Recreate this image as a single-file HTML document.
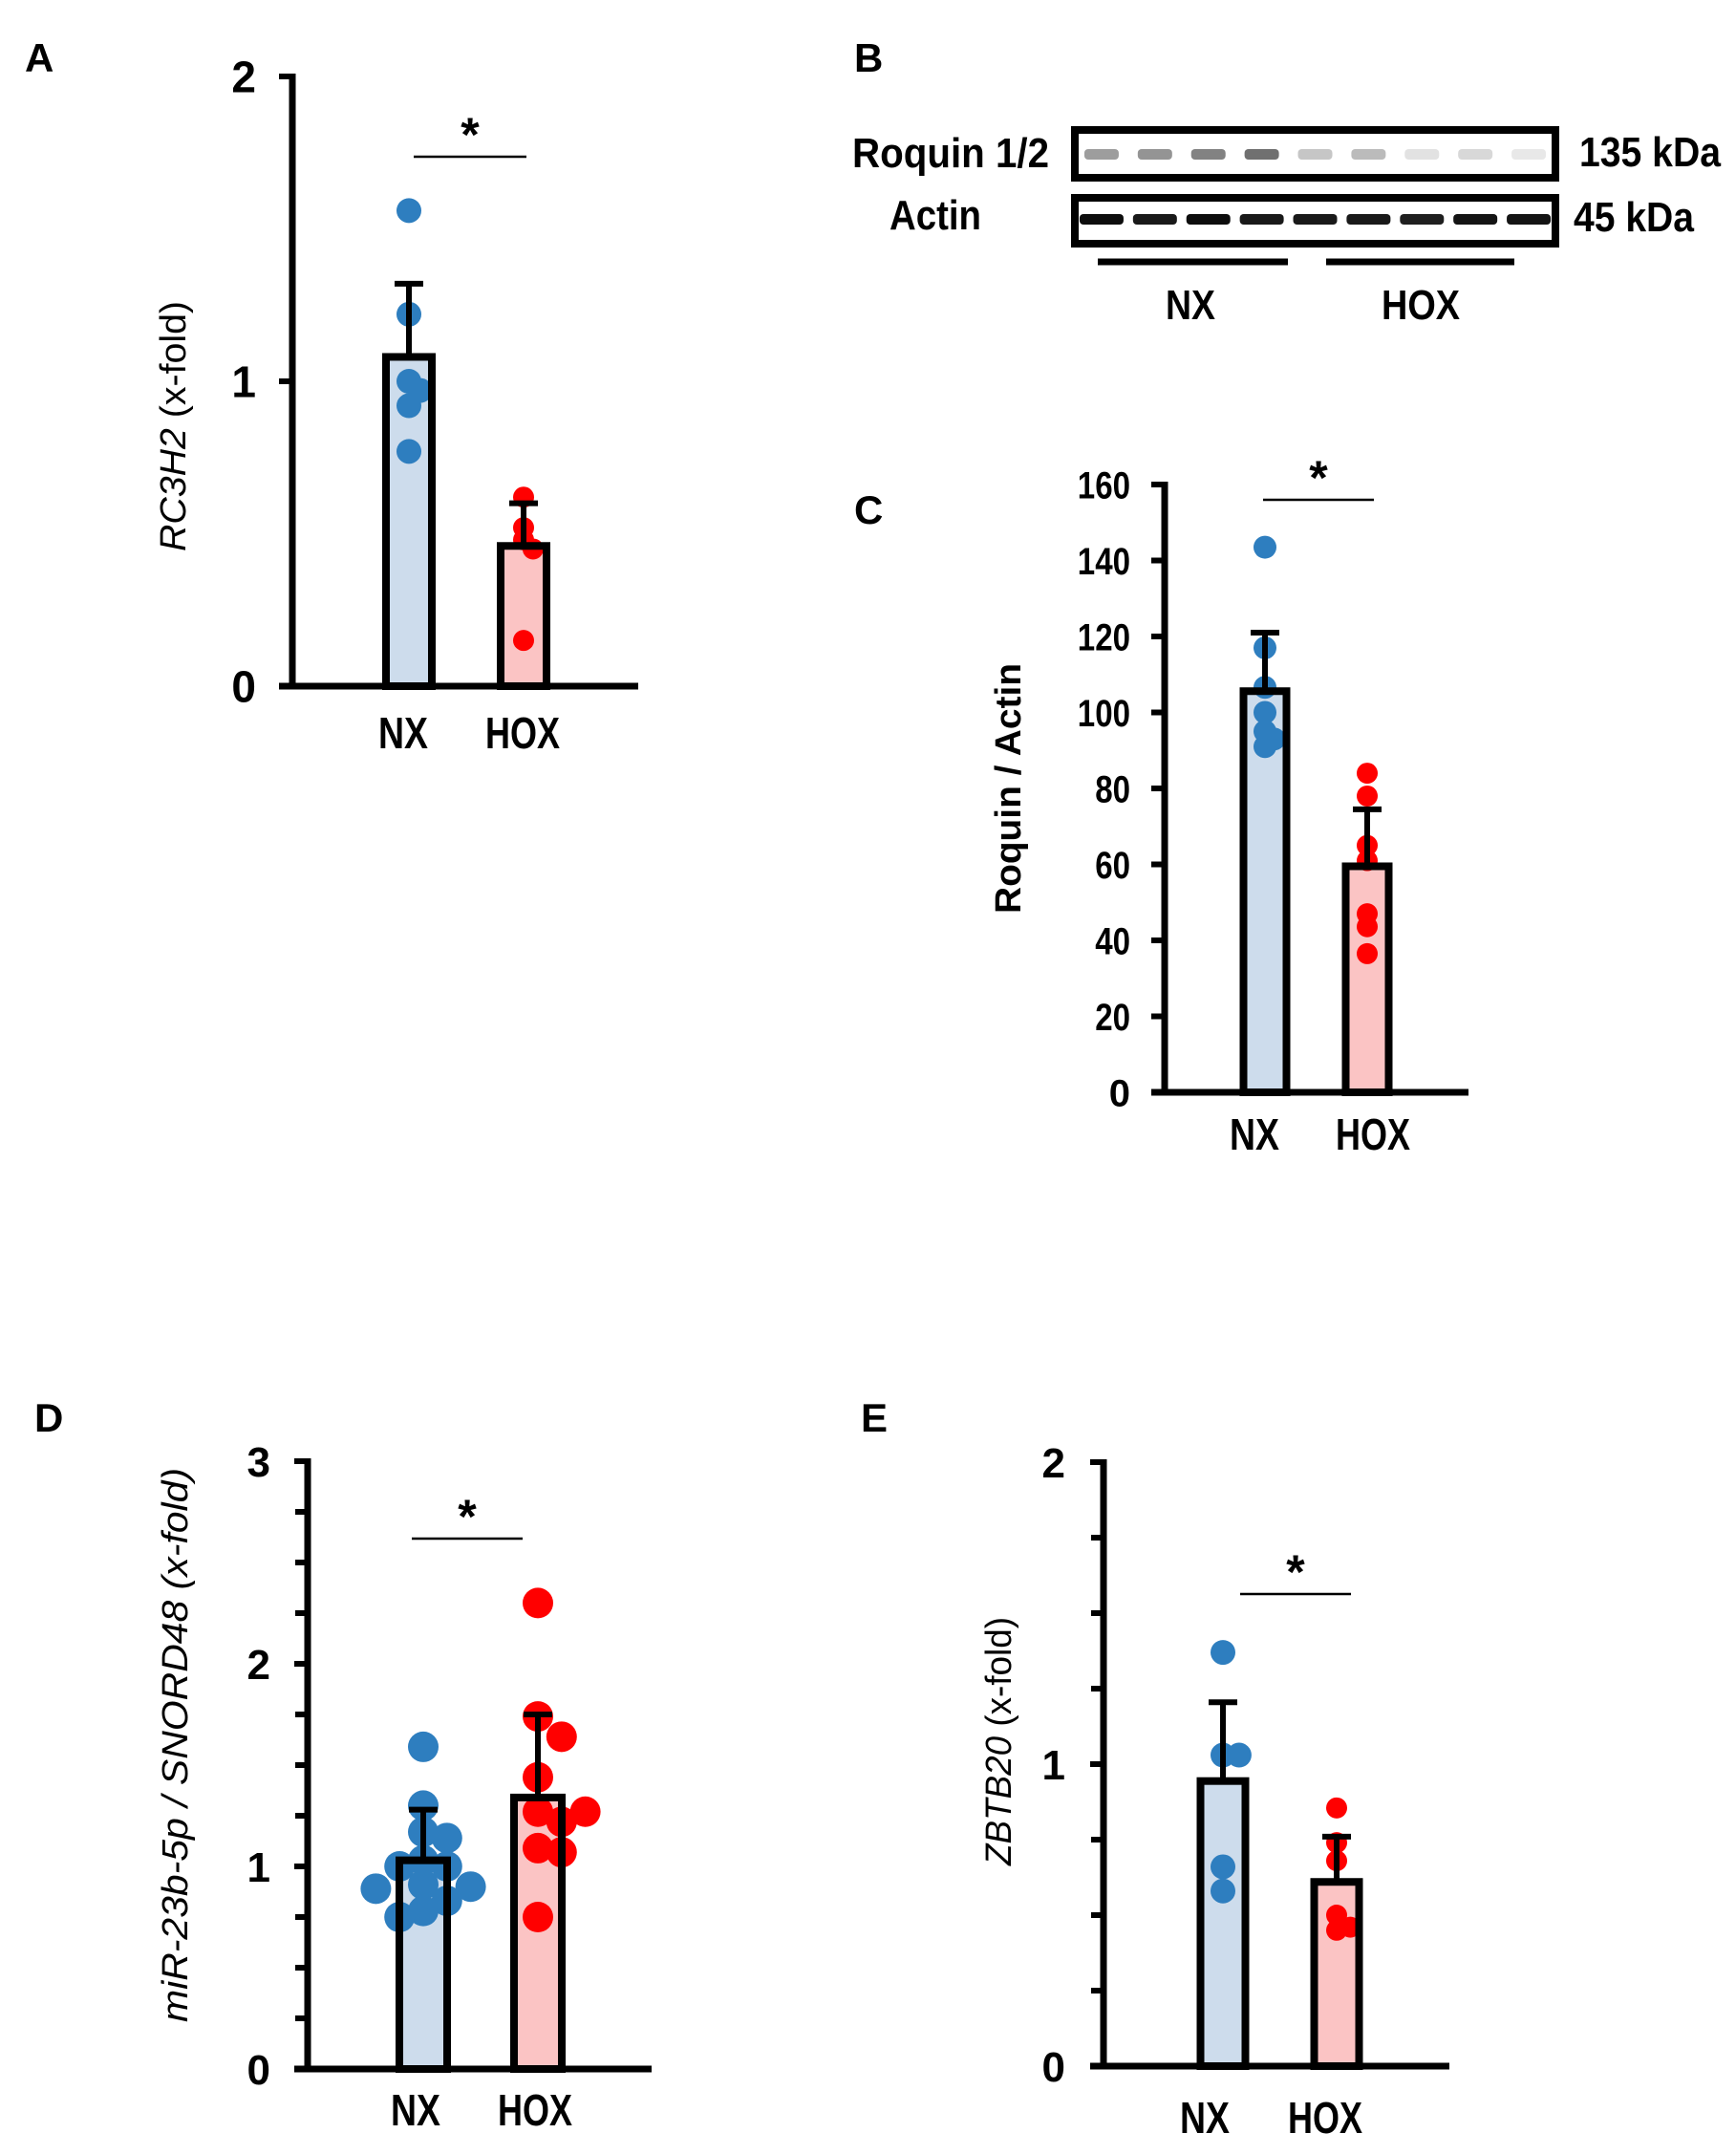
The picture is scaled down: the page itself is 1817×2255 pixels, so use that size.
<!DOCTYPE html>
<html>
<head>
<meta charset="utf-8">
<style>
html,body{margin:0;padding:0;background:#fff;}
svg{display:block;}
text{font-family:"Liberation Sans Narrow","Liberation Sans",Arial,sans-serif;fill:#000;}
</style>
</head>
<body>
<svg id="fig" xmlns="http://www.w3.org/2000/svg" width="1817" height="2255" viewBox="0 0 1817 2255">
  <rect x="0" y="0" width="1817" height="2255" fill="#fff"/>
  <g id="panels"></g>
</svg>
<script>
// ===== Panel A data: RC3H2 (x-fold) =====
const aCategories = ["NX", "HOX"];
const aMeans = [1.08, 0.46];
const aErrTop = [1.32, 0.60];
const aPointsNX = [1.56, 1.22, 1.00, 0.97, 0.92, 0.77];
const aPointsHOX = [0.62, 0.52, 0.48, 0.45, 0.15];
const aTicks = [0, 1, 2];

// ===== Panel C data: Roquin / Actin =====
const cCategories = ["NX", "HOX"];
const cMeans = [105.6, 59.5];
const cErrTop = [121, 74.5];
const cPointsNX = [143.5, 117, 106.6, 100, 95, 91, 93];
const cPointsHOX = [84, 78, 65, 61, 47, 43.6, 36.5];
const cTicks = [0, 20, 40, 60, 80, 100, 120, 140, 160];

// ===== Panel D data: miR-23b-5p / SNORD48 =====
const dCategories = ["NX", "HOX"];
const dMeans = [1.03, 1.34];
const dErrTop = [1.28, 1.75];
const dPointsNX = [1.59, 1.30, 1.17, 1.14, 1.03, 1.00, 1.00, 0.91, 0.90, 0.89, 0.83, 0.78, 0.75];
const dPointsHOX = [2.30, 1.74, 1.64, 1.44, 1.27, 1.27, 1.22, 1.09, 1.07, 0.75];
const dTicks = [0, 1, 2, 3];

// ===== Panel E data: ZBTB20 (x-fold) =====
const eCategories = ["NX", "HOX"];
const eMeans = [0.944, 0.61];
const eErrTop = [1.205, 0.76];
const ePointsNX = [1.37, 1.03, 1.03, 0.66, 0.58];
const ePointsHOX = [0.855, 0.74, 0.68, 0.50, 0.46, 0.45];
const eTicks = [0, 1, 2];

// ===== Blot band intensities (relative) =====
const roquinBands = [0.55, 0.6, 0.7, 0.8, 0.32, 0.38, 0.16, 0.22, 0.13];
const actinBands = [0.95, 0.9, 0.95, 0.9, 0.9, 0.9, 0.88, 0.92, 0.92];

const NS = "http://www.w3.org/2000/svg";
const root = document.getElementById("panels");
function el(tag, attrs, parent) {
  const e = document.createElementNS(NS, tag);
  for (const k in attrs) e.setAttribute(k, attrs[k]);
  (parent || root).appendChild(e);
  return e;
}
function txt(str, attrs, parent) {
  const t = el("text", attrs, parent);
  t.textContent = str;
  return t;
}

const BLUE_FILL = "#cddcec", BLUE_DOT = "#2e7ebf";
const RED_FILL = "#fbc4c4", RED_DOT = "#ff0000";

function drawPanel(cfg) {
  const g = el("g", {});
  
  
  const yScale = v => cfg.y0 - (v - cfg.min) / (cfg.max - cfg.min) * (cfg.y0 - cfg.yTop);

  const L = txt(cfg.letter, {x: cfg.letterX, y: cfg.letterY, "font-size": 42, "font-weight": "bold", "font-family": "Liberation Sans, sans-serif"}, g);
  
  

  const ya = el("line", {x1: cfg.ax, y1: cfg.yTop - 3, x2: cfg.ax, y2: cfg.y0 + 3, stroke: "#000", "stroke-width": 7}, g);
  
  
  if (cfg.minor) {
    for (let v = cfg.min; v <= cfg.max + 1e-9; v += cfg.minor) {
      const mt = el("line", {x1: cfg.ax - 13, y1: yScale(v), x2: cfg.ax, y2: yScale(v), stroke: "#000", "stroke-width": 6}, g);
      
      
    }
  }
  cfg.ticks.forEach(v => {
    const t = el("line", {x1: cfg.ax - 14, y1: yScale(v), x2: cfg.ax, y2: yScale(v), stroke: "#000", "stroke-width": 6}, g);
    
    
    const s = String(v);
    const attrs = {x: cfg.tickLabelX, y: yScale(v) + cfg.tickFont * 0.36, "font-size": cfg.tickFont, "font-weight": "bold", "text-anchor": "end"};
    if (s.length > 1) { attrs.textLength = s.length * cfg.tickFont * 0.46; attrs.lengthAdjust = "spacingAndGlyphs"; }
    const lbl = txt(s, attrs, g);
    
    
  });
  const xa = el("line", {x1: cfg.ax - 14, y1: cfg.y0, x2: cfg.xEnd, y2: cfg.y0, stroke: "#000", "stroke-width": 7}, g);
  
  

  const tg = el("text", {transform: `translate(${cfg.titleX},${cfg.titleY}) rotate(-90)`, "text-anchor": "middle", "font-size": 38, "font-weight": cfg.titleBold ? "bold" : "normal", textLength: cfg.titleLen, lengthAdjust: "spacingAndGlyphs"}, g);
  
  
  cfg.title.forEach(part => {
    const ts = document.createElementNS(NS, "tspan");
    if (part[1]) ts.setAttribute("font-style", "italic");
    ts.textContent = part[0];
    tg.appendChild(ts);
  });

  const fills = [BLUE_FILL, RED_FILL], dots = [BLUE_DOT, RED_DOT];
  cfg.cats.forEach((cat, i) => {
    const cx = cfg.barX[i], w = cfg.barW, ym = yScale(cfg.means[i]);
    const bar = el("rect", {x: cx - w / 2, y: ym, width: w, height: cfg.y0 - ym, fill: fills[i]}, g);
    
    
    const r = cfg.dotR[i];
    const sp = cfg.spread;
    const placed = [];
    cfg.points[i].forEach(v => {
      const py = yScale(v);
      const offsets = [0, 1, -1, 2, -2, 3, -3];
      let px = cx;
      for (const o of offsets) {
        const cand = cx + o * r * sp;
        if (placed.every(p => Math.hypot(p[0] - cand, p[1] - py) >= r * sp)) { px = cand; break; }
      }
      placed.push([px, py]);
      const c = el("circle", {cx: px, cy: py, r: r, fill: dots[i]}, g);
      
      
    });
    const outline = el("rect", {x: cx - w / 2 + 3.5, y: ym, width: w - 7, height: cfg.y0 - ym, fill: "none", stroke: "#000", "stroke-width": 8}, g);
    
    
    const ye = yScale(cfg.err[i]);
    const eb = el("path", {d: `M${cx},${ym} V${ye} M${cx - 15},${ye} H${cx + 15}`, stroke: "#000", "stroke-width": 6, fill: "none"}, g);
    
    
    const xl = txt(cat, {x: cfg.labelX[i], y: cfg.labelY, "font-size": 46, "font-weight": "bold", "text-anchor": "middle", textLength: cat.length * 26, lengthAdjust: "spacingAndGlyphs"}, g);
    
    
  });
  const sl = el("line", {x1: cfg.sig[0], y1: cfg.sig[2], x2: cfg.sig[1], y2: cfg.sig[2], stroke: "#000", "stroke-width": 2.5}, g);
  
  
  const st = txt("*", {x: (cfg.sig[0] + cfg.sig[1]) / 2, y: cfg.sig[2] - 6, "font-size": 50, "font-weight": "bold", "text-anchor": "middle", "font-family": "Liberation Sans, sans-serif"}, g);
  
  
}

drawPanel({name: "panel-a-chart", letter: "A", letterX: 26, letterY: 75, ax: 306, y0: 718, yTop: 80, min: 0, max: 2, ticks: aTicks, minor: 0,
  tickFont: 46, tickLabelX: 268, xEnd: 668, barX: [428, 548], barW: 55, means: aMeans, err: aErrTop, spread: 0.9,
  points: [aPointsNX, aPointsHOX], dotR: [13, 11], cats: aCategories, labelX: [422, 547], labelY: 783,
  title: [["RC3H2", true], [" (x-fold)", false]], titleX: 194, titleY: 446, titleLen: 262, sig: [433, 551, 164]});

drawPanel({name: "panel-c-chart", letter: "C", letterX: 894, letterY: 548, ax: 1219, y0: 1143, yTop: 507, min: 0, max: 160, ticks: cTicks, minor: 0,
  tickFont: 40, tickLabelX: 1183, xEnd: 1537, barX: [1324, 1431], barW: 52, means: cMeans, err: cErrTop, spread: 0.8,
  points: [cPointsNX, cPointsHOX], dotR: [12, 11], cats: cCategories, labelX: [1313, 1437], labelY: 1203,
  title: [["Roquin / Actin", false]], titleX: 1068, titleY: 825, titleLen: 262, titleBold: true, sig: [1322, 1438, 523]});

drawPanel({name: "panel-d-chart", letter: "D", letterX: 36, letterY: 1498, ax: 322, y0: 2165, yTop: 1529, min: 0, max: 3, ticks: dTicks, minor: 0.25,
  tickFont: 44, tickLabelX: 283, xEnd: 682, barX: [443, 563], barW: 57, means: dMeans, err: dErrTop, spread: 1.55,
  points: [dPointsNX, dPointsHOX], dotR: [16, 16], cats: dCategories, labelX: [435, 560], labelY: 2224,
  title: [["miR-23b-5p / SNORD48", true], [" (x-fold)", true]], titleX: 196, titleY: 1826, titleLen: 580, sig: [431, 547, 1610]});

drawPanel({name: "panel-e-chart", letter: "E", letterX: 901, letterY: 1498, ax: 1155, y0: 2162, yTop: 1530, min: 0, max: 2, ticks: eTicks, minor: 0.25,
  tickFont: 44, tickLabelX: 1115, xEnd: 1517, barX: [1280, 1399], barW: 54, means: eMeans, err: eErrTop, spread: 1.3,
  points: [ePointsNX, ePointsHOX], dotR: [13, 11], cats: eCategories, labelX: [1261, 1387], labelY: 2232,
  title: [["ZBTB20", true], [" (x-fold)", false]], titleX: 1058, titleY: 1822, titleLen: 260, sig: [1298, 1414, 1668]});

(function () {
  const g = el("g", {});
  
  
  const B = txt("B", {x: 894, y: 75, "font-size": 42, "font-weight": "bold", "font-family": "Liberation Sans, sans-serif"}, g);
  
  
  const boxX = 1125, boxW = 503;
  const laneW = boxW / roquinBands.length;
  const b1 = el("rect", {x: boxX, y: 136, width: boxW, height: 50, fill: "#fff", stroke: "#000", "stroke-width": 8}, g);
  
  
  roquinBands.forEach((v, i) => {
    const cx = boxX + laneW * (i + 0.5);
    const band = el("rect", {x: cx - 18, y: 156, width: 36, height: 11, rx: 4, fill: "#000", opacity: v * 0.7}, g);
    
    
  });
  const b2 = el("rect", {x: boxX, y: 207, width: boxW, height: 48, fill: "#fff", stroke: "#000", "stroke-width": 8}, g);
  
  
  actinBands.forEach((v, i) => {
    const cx = boxX + laneW * (i + 0.5);
    const band = el("rect", {x: cx - 23, y: 224, width: 46, height: 11, rx: 4, fill: "#000", opacity: v}, g);
    
    
  });
  const labels = [
    ["Roquin 1/2", 1098, 175, 206, "end", "roquin-label"],
    ["Actin", 1027, 240, 96, "end", "actin-label"],
    ["135 kDa", 1653, 174, 148, "start", "mw-135-label"],
    ["45 kDa", 1647, 242, 126, "start", "mw-45-label"],
    ["NX", 1246, 334, 52, "middle", "blot-nx-label"],
    ["HOX", 1487, 334, 82, "middle", "blot-hox-label"]
  ];
  labels.forEach(l => {
    const t = txt(l[0], {x: l[1], y: l[2], "font-size": 44, "font-weight": "bold", "text-anchor": l[4], textLength: l[3], lengthAdjust: "spacingAndGlyphs"}, g);
    
    
  });
  const u1 = el("line", {x1: 1149, y1: 274, x2: 1348, y2: 274, stroke: "#000", "stroke-width": 7}, g);
  
  
  const u2 = el("line", {x1: 1388, y1: 274, x2: 1585, y2: 274, stroke: "#000", "stroke-width": 7}, g);
  
  
})();
</script>
</body>
</html>
